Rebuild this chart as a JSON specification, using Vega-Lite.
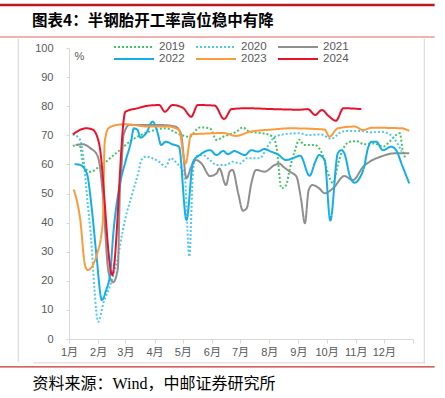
{
  "$schema": "https://vega.github.io/schema/vega-lite/v6.json",
  "width": 344,
  "height": 291,
  "autosize": {"type": "none"},
  "padding": {"left": 69, "top": 48, "right": 32, "bottom": 59},
  "background": "white",
  "title": {
    "text": "图表4：半钢胎开工率高位稳中有降",
    "anchor": "start",
    "frame": "group",
    "dx": -37,
    "offset": -26,
    "font": "Noto Sans CJK SC",
    "fontSize": 15.5,
    "fontWeight": "bold",
    "color": "#000000"
  },
  "resolve": {
    "scale": {"x": "independent", "y": "independent"},
    "axis": {"x": "independent", "y": "independent"}
  },
  "config": {
    "view": {"stroke": null},
    "font": "Liberation Sans, Noto Sans CJK SC",
    "legend": {
      "orient": "none",
      "legendX": 58.5,
      "legendY": -7.5,
      "direction": "horizontal",
      "columns": 3,
      "symbolType": "M-3.65,0H3.65",
      "symbolSize": 120,
      "symbolStrokeWidth": 2,
      "labelFontSize": 11.5,
      "labelColor": "#595959",
      "labelFont": "Liberation Sans",
      "labelOffset": 18.5,
      "columnPadding": 6,
      "rowPadding": 0,
      "padding": 0
    }
  },
  "layer": [
    {
      "data": {
        "values": [
          {"s": "2019", "d": "2024-01-05", "v": 66.4}, {"s": "2019", "d": "2024-01-12", "v": 66.7}, {"s": "2019", "d": "2024-01-17", "v": 59.2}, {"s": "2019", "d": "2024-01-24", "v": 57.5}, {"s": "2019", "d": "2024-02-02", "v": 59.2}, {"s": "2019", "d": "2024-02-20", "v": 63.8}, {"s": "2019", "d": "2024-03-08", "v": 68.4}, {"s": "2019", "d": "2024-03-26", "v": 71.2}, {"s": "2019", "d": "2024-04-13", "v": 72.4}, {"s": "2019", "d": "2024-04-28", "v": 70.3}, {"s": "2019", "d": "2024-05-08", "v": 69.5}, {"s": "2019", "d": "2024-05-19", "v": 72.7}, {"s": "2019", "d": "2024-05-30", "v": 72.4}, {"s": "2019", "d": "2024-06-06", "v": 68.4}, {"s": "2019", "d": "2024-06-13", "v": 69.5}, {"s": "2019", "d": "2024-06-27", "v": 71.2}, {"s": "2019", "d": "2024-07-04", "v": 72.7}, {"s": "2019", "d": "2024-07-11", "v": 71.2}, {"s": "2019", "d": "2024-07-25", "v": 70.7}, {"s": "2019", "d": "2024-08-05", "v": 69.5}, {"s": "2019", "d": "2024-08-09", "v": 65.5}, {"s": "2019", "d": "2024-08-14", "v": 51.8}, {"s": "2019", "d": "2024-08-19", "v": 52.9}, {"s": "2019", "d": "2024-08-23", "v": 58.6}, {"s": "2019", "d": "2024-08-28", "v": 64.4}, {"s": "2019", "d": "2024-09-02", "v": 68.5}, {"s": "2019", "d": "2024-09-07", "v": 66.7}, {"s": "2019", "d": "2024-09-18", "v": 66.7}, {"s": "2019", "d": "2024-09-27", "v": 63.2}, {"s": "2019", "d": "2024-10-02", "v": 57.5}, {"s": "2019", "d": "2024-10-08", "v": 53.5}, {"s": "2019", "d": "2024-10-13", "v": 59.8}, {"s": "2019", "d": "2024-10-18", "v": 64.9}, {"s": "2019", "d": "2024-10-26", "v": 67.8}, {"s": "2019", "d": "2024-11-02", "v": 68.0}, {"s": "2019", "d": "2024-11-10", "v": 66.9}, {"s": "2019", "d": "2024-11-21", "v": 67.2}, {"s": "2019", "d": "2024-11-30", "v": 66.1}, {"s": "2019", "d": "2024-12-07", "v": 67.8}, {"s": "2019", "d": "2024-12-12", "v": 69.5}, {"s": "2019", "d": "2024-12-18", "v": 70.7}, {"s": "2019", "d": "2024-12-21", "v": 65.0}, {"s": "2019", "d": "2024-12-24", "v": 62.0},

          {"s": "2020", "d": "2024-01-05", "v": 70.3}, {"s": "2020", "d": "2024-01-12", "v": 68.9}, {"s": "2020", "d": "2024-01-16", "v": 63.2}, {"s": "2020", "d": "2024-01-20", "v": 49.5}, {"s": "2020", "d": "2024-01-25", "v": 32.3}, {"s": "2020", "d": "2024-01-28", "v": 17.4}, {"s": "2020", "d": "2024-02-01", "v": 5.9}, {"s": "2020", "d": "2024-02-07", "v": 12.8}, {"s": "2020", "d": "2024-02-14", "v": 18.6}, {"s": "2020", "d": "2024-02-21", "v": 26.6}, {"s": "2020", "d": "2024-02-27", "v": 36.9}, {"s": "2020", "d": "2024-03-01", "v": 41.5}, {"s": "2020", "d": "2024-03-08", "v": 49.5}, {"s": "2020", "d": "2024-03-15", "v": 57.5}, {"s": "2020", "d": "2024-03-18", "v": 61.5}, {"s": "2020", "d": "2024-03-23", "v": 62.7}, {"s": "2020", "d": "2024-03-30", "v": 62.1}, {"s": "2020", "d": "2024-04-06", "v": 60.9}, {"s": "2020", "d": "2024-04-13", "v": 59.2}, {"s": "2020", "d": "2024-04-18", "v": 62.1}, {"s": "2020", "d": "2024-04-25", "v": 60.3}, {"s": "2020", "d": "2024-05-03", "v": 56.4}, {"s": "2020", "d": "2024-05-08", "v": 28.3}, {"s": "2020", "d": "2024-05-12", "v": 58.1}, {"s": "2020", "d": "2024-05-15", "v": 62.7}, {"s": "2020", "d": "2024-05-22", "v": 63.2}, {"s": "2020", "d": "2024-05-30", "v": 61.5}, {"s": "2020", "d": "2024-06-06", "v": 59.8}, {"s": "2020", "d": "2024-06-16", "v": 59.8}, {"s": "2020", "d": "2024-06-23", "v": 60.9}, {"s": "2020", "d": "2024-07-01", "v": 60.3}, {"s": "2020", "d": "2024-07-08", "v": 62.1}, {"s": "2020", "d": "2024-07-22", "v": 62.1}, {"s": "2020", "d": "2024-07-29", "v": 65.5}, {"s": "2020", "d": "2024-08-05", "v": 68.9}, {"s": "2020", "d": "2024-08-12", "v": 70.1}, {"s": "2020", "d": "2024-09-02", "v": 70.7}, {"s": "2020", "d": "2024-09-11", "v": 70.1}, {"s": "2020", "d": "2024-09-25", "v": 70.3}, {"s": "2020", "d": "2024-10-06", "v": 68.8}, {"s": "2020", "d": "2024-10-17", "v": 71.2}, {"s": "2020", "d": "2024-10-24", "v": 71.5}, {"s": "2020", "d": "2024-11-07", "v": 71.5}, {"s": "2020", "d": "2024-11-18", "v": 71.0}, {"s": "2020", "d": "2024-11-28", "v": 71.2}, {"s": "2020", "d": "2024-12-05", "v": 70.7}, {"s": "2020", "d": "2024-12-12", "v": 68.9}, {"s": "2020", "d": "2024-12-20", "v": 64.4},

          {"s": "2021", "d": "2024-01-08", "v": 66.7}, {"s": "2021", "d": "2024-01-16", "v": 66.9}, {"s": "2021", "d": "2024-01-24", "v": 65.5}, {"s": "2021", "d": "2024-01-31", "v": 63.2}, {"s": "2021", "d": "2024-02-03", "v": 59.0}, {"s": "2021", "d": "2024-02-06", "v": 49.5}, {"s": "2021", "d": "2024-02-12", "v": 23.1}, {"s": "2021", "d": "2024-02-17", "v": 19.5}, {"s": "2021", "d": "2024-02-22", "v": 24.3}, {"s": "2021", "d": "2024-02-24", "v": 49.5}, {"s": "2021", "d": "2024-02-26", "v": 60.0}, {"s": "2021", "d": "2024-02-28", "v": 70.1}, {"s": "2021", "d": "2024-03-05", "v": 73.5}, {"s": "2021", "d": "2024-03-26", "v": 73.5}, {"s": "2021", "d": "2024-04-10", "v": 73.5}, {"s": "2021", "d": "2024-04-23", "v": 73.0}, {"s": "2021", "d": "2024-04-29", "v": 70.7}, {"s": "2021", "d": "2024-05-05", "v": 55.2}, {"s": "2021", "d": "2024-05-10", "v": 59.2}, {"s": "2021", "d": "2024-05-15", "v": 61.5}, {"s": "2021", "d": "2024-05-21", "v": 60.3}, {"s": "2021", "d": "2024-05-30", "v": 56.0}, {"s": "2021", "d": "2024-06-06", "v": 56.9}, {"s": "2021", "d": "2024-06-09", "v": 58.6}, {"s": "2021", "d": "2024-06-16", "v": 52.9}, {"s": "2021", "d": "2024-06-20", "v": 57.5}, {"s": "2021", "d": "2024-06-23", "v": 58.1}, {"s": "2021", "d": "2024-06-29", "v": 50.1}, {"s": "2021", "d": "2024-07-04", "v": 44.1}, {"s": "2021", "d": "2024-07-08", "v": 44.9}, {"s": "2021", "d": "2024-07-13", "v": 53.5}, {"s": "2021", "d": "2024-07-18", "v": 58.1}, {"s": "2021", "d": "2024-07-27", "v": 57.5}, {"s": "2021", "d": "2024-08-07", "v": 59.8}, {"s": "2021", "d": "2024-08-12", "v": 60.3}, {"s": "2021", "d": "2024-08-16", "v": 59.2}, {"s": "2021", "d": "2024-08-23", "v": 57.5}, {"s": "2021", "d": "2024-08-30", "v": 55.8}, {"s": "2021", "d": "2024-09-04", "v": 47.8}, {"s": "2021", "d": "2024-09-08", "v": 39.8}, {"s": "2021", "d": "2024-09-12", "v": 51.2}, {"s": "2021", "d": "2024-09-16", "v": 52.9}, {"s": "2021", "d": "2024-09-23", "v": 51.8}, {"s": "2021", "d": "2024-09-29", "v": 50.1}, {"s": "2021", "d": "2024-10-08", "v": 51.8}, {"s": "2021", "d": "2024-10-20", "v": 56.0}, {"s": "2021", "d": "2024-10-29", "v": 54.6}, {"s": "2021", "d": "2024-11-09", "v": 59.2}, {"s": "2021", "d": "2024-11-19", "v": 61.5}, {"s": "2021", "d": "2024-11-28", "v": 62.7}, {"s": "2021", "d": "2024-12-12", "v": 63.8}, {"s": "2021", "d": "2024-12-28", "v": 63.8},

          {"s": "2022", "d": "2024-01-07", "v": 60.1}, {"s": "2022", "d": "2024-01-13", "v": 59.8}, {"s": "2022", "d": "2024-01-20", "v": 56.9}, {"s": "2022", "d": "2024-01-25", "v": 45.5}, {"s": "2022", "d": "2024-01-30", "v": 29.4}, {"s": "2022", "d": "2024-02-05", "v": 13.4}, {"s": "2022", "d": "2024-02-09", "v": 16.3}, {"s": "2022", "d": "2024-02-14", "v": 23.1}, {"s": "2022", "d": "2024-02-17", "v": 35.7}, {"s": "2022", "d": "2024-02-24", "v": 52.9}, {"s": "2022", "d": "2024-03-01", "v": 60.9}, {"s": "2022", "d": "2024-03-07", "v": 67.8}, {"s": "2022", "d": "2024-03-10", "v": 72.4}, {"s": "2022", "d": "2024-03-14", "v": 71.8}, {"s": "2022", "d": "2024-03-17", "v": 69.2}, {"s": "2022", "d": "2024-03-23", "v": 70.7}, {"s": "2022", "d": "2024-03-30", "v": 74.7}, {"s": "2022", "d": "2024-04-04", "v": 71.2}, {"s": "2022", "d": "2024-04-08", "v": 66.7}, {"s": "2022", "d": "2024-04-13", "v": 67.8}, {"s": "2022", "d": "2024-04-20", "v": 66.9}, {"s": "2022", "d": "2024-04-27", "v": 66.1}, {"s": "2022", "d": "2024-05-05", "v": 40.9}, {"s": "2022", "d": "2024-05-12", "v": 60.9}, {"s": "2022", "d": "2024-05-19", "v": 63.2}, {"s": "2022", "d": "2024-05-30", "v": 64.9}, {"s": "2022", "d": "2024-06-06", "v": 63.2}, {"s": "2022", "d": "2024-06-13", "v": 64.6}, {"s": "2022", "d": "2024-06-18", "v": 63.5}, {"s": "2022", "d": "2024-06-25", "v": 64.6}, {"s": "2022", "d": "2024-07-01", "v": 63.8}, {"s": "2022", "d": "2024-07-06", "v": 63.2}, {"s": "2022", "d": "2024-07-13", "v": 64.9}, {"s": "2022", "d": "2024-07-20", "v": 64.4}, {"s": "2022", "d": "2024-07-27", "v": 65.3}, {"s": "2022", "d": "2024-08-03", "v": 64.4}, {"s": "2022", "d": "2024-08-10", "v": 63.5}, {"s": "2022", "d": "2024-08-19", "v": 61.5}, {"s": "2022", "d": "2024-08-26", "v": 62.1}, {"s": "2022", "d": "2024-09-03", "v": 63.0}, {"s": "2022", "d": "2024-09-13", "v": 56.1}, {"s": "2022", "d": "2024-09-19", "v": 60.9}, {"s": "2022", "d": "2024-09-23", "v": 63.2}, {"s": "2022", "d": "2024-09-29", "v": 61.5}, {"s": "2022", "d": "2024-10-05", "v": 40.7}, {"s": "2022", "d": "2024-10-13", "v": 63.8}, {"s": "2022", "d": "2024-10-17", "v": 64.9}, {"s": "2022", "d": "2024-10-20", "v": 63.8}, {"s": "2022", "d": "2024-10-26", "v": 55.8}, {"s": "2022", "d": "2024-10-31", "v": 53.7}, {"s": "2022", "d": "2024-11-05", "v": 55.2}, {"s": "2022", "d": "2024-11-10", "v": 59.2}, {"s": "2022", "d": "2024-11-14", "v": 65.5}, {"s": "2022", "d": "2024-11-18", "v": 67.8}, {"s": "2022", "d": "2024-11-23", "v": 67.8}, {"s": "2022", "d": "2024-11-30", "v": 64.9}, {"s": "2022", "d": "2024-12-09", "v": 66.1}, {"s": "2022", "d": "2024-12-14", "v": 64.9}, {"s": "2022", "d": "2024-12-21", "v": 59.2}, {"s": "2022", "d": "2024-12-28", "v": 53.5},

          {"s": "2023", "d": "2024-01-06", "v": 51.4}, {"s": "2023", "d": "2024-01-13", "v": 40.9}, {"s": "2023", "d": "2024-01-18", "v": 25.4}, {"s": "2023", "d": "2024-01-21", "v": 23.7}, {"s": "2023", "d": "2024-01-31", "v": 29.4}, {"s": "2023", "d": "2024-02-06", "v": 40.3}, {"s": "2023", "d": "2024-02-08", "v": 67.8}, {"s": "2023", "d": "2024-02-12", "v": 72.4}, {"s": "2023", "d": "2024-02-20", "v": 73.5}, {"s": "2023", "d": "2024-03-01", "v": 73.8}, {"s": "2023", "d": "2024-03-26", "v": 73.0}, {"s": "2023", "d": "2024-04-16", "v": 73.0}, {"s": "2023", "d": "2024-04-27", "v": 71.8}, {"s": "2023", "d": "2024-05-04", "v": 60.3}, {"s": "2023", "d": "2024-05-10", "v": 70.3}, {"s": "2023", "d": "2024-05-26", "v": 70.6}, {"s": "2023", "d": "2024-06-13", "v": 70.8}, {"s": "2023", "d": "2024-06-27", "v": 69.8}, {"s": "2023", "d": "2024-07-11", "v": 71.2}, {"s": "2023", "d": "2024-08-05", "v": 72.0}, {"s": "2023", "d": "2024-08-23", "v": 72.4}, {"s": "2023", "d": "2024-09-29", "v": 72.0}, {"s": "2023", "d": "2024-10-04", "v": 69.5}, {"s": "2023", "d": "2024-10-13", "v": 72.4}, {"s": "2023", "d": "2024-10-31", "v": 73.0}, {"s": "2023", "d": "2024-11-09", "v": 71.8}, {"s": "2023", "d": "2024-11-18", "v": 72.6}, {"s": "2023", "d": "2024-12-20", "v": 72.4}, {"s": "2023", "d": "2024-12-28", "v": 71.5},

          {"s": "2024", "d": "2024-01-05", "v": 70.3}, {"s": "2024", "d": "2024-01-19", "v": 72.4}, {"s": "2024", "d": "2024-01-26", "v": 72.0}, {"s": "2024", "d": "2024-02-02", "v": 67.2}, {"s": "2024", "d": "2024-02-16", "v": 22.0}, {"s": "2024", "d": "2024-03-01", "v": 78.1}, {"s": "2024", "d": "2024-03-14", "v": 79.3}, {"s": "2024", "d": "2024-03-26", "v": 80.2}, {"s": "2024", "d": "2024-04-06", "v": 80.4}, {"s": "2024", "d": "2024-04-12", "v": 78.1}, {"s": "2024", "d": "2024-04-20", "v": 80.4}, {"s": "2024", "d": "2024-05-01", "v": 79.5}, {"s": "2024", "d": "2024-05-10", "v": 76.4}, {"s": "2024", "d": "2024-05-17", "v": 80.4}, {"s": "2024", "d": "2024-06-04", "v": 80.2}, {"s": "2024", "d": "2024-06-14", "v": 75.6}, {"s": "2024", "d": "2024-06-22", "v": 79.0}, {"s": "2024", "d": "2024-07-08", "v": 79.3}, {"s": "2024", "d": "2024-08-05", "v": 79.0}, {"s": "2024", "d": "2024-09-02", "v": 78.8}, {"s": "2024", "d": "2024-09-11", "v": 79.0}, {"s": "2024", "d": "2024-09-19", "v": 77.0}, {"s": "2024", "d": "2024-09-26", "v": 78.7}, {"s": "2024", "d": "2024-10-03", "v": 76.7}, {"s": "2024", "d": "2024-10-11", "v": 75.0}, {"s": "2024", "d": "2024-10-19", "v": 79.3}, {"s": "2024", "d": "2024-11-07", "v": 79.0}
        ]
      },
      "mark": {"type": "line", "interpolate": "monotone", "strokeWidth": 2},
      "encoding": {
        "x": {
          "field": "d",
          "type": "temporal",
          "scale": {
            "type": "utc",
            "domain": [
              {"year": 2024, "month": 1, "date": 1, "utc": true},
              {"year": 2025, "month": 1, "date": 1, "utc": true}
            ]
          },
          "axis": {
            "values": [
              {"year": 2024, "month": 1, "date": 1, "utc": true},
              {"year": 2024, "month": 2, "date": 1, "utc": true},
              {"year": 2024, "month": 3, "date": 1, "utc": true},
              {"year": 2024, "month": 4, "date": 1, "utc": true},
              {"year": 2024, "month": 5, "date": 1, "utc": true},
              {"year": 2024, "month": 6, "date": 1, "utc": true},
              {"year": 2024, "month": 7, "date": 1, "utc": true},
              {"year": 2024, "month": 8, "date": 1, "utc": true},
              {"year": 2024, "month": 9, "date": 1, "utc": true},
              {"year": 2024, "month": 10, "date": 1, "utc": true},
              {"year": 2024, "month": 11, "date": 1, "utc": true},
              {"year": 2024, "month": 12, "date": 1, "utc": true},
              {"year": 2025, "month": 1, "date": 1, "utc": true}
            ],
            "labelExpr": "utcyear(datum.value) > 2024 ? '' : (utcmonth(datum.value) + 1) + '月'",
            "labelFlush": false,
            "labelOverlap": false,
            "labelFontSize": 11,
            "labelColor": "#595959",
            "labelPadding": 3,
            "grid": false,
            "domainColor": "#d9d9d9",
            "tickColor": "#d9d9d9",
            "tickSize": 4,
            "title": "资料来源：Wind，中邮证券研究所",
            "titleFont": "Liberation Serif, Noto Sans CJK SC",
            "titleFontSize": 16,
            "titleFontWeight": "normal",
            "titleColor": "#000000",
            "titleAnchor": "start",
            "titleAlign": "left",
            "titleBaseline": "middle",
            "titleX": -37,
            "titleY": 44
          }
        },
        "y": {
          "field": "v",
          "type": "quantitative",
          "scale": {"domain": [0, 100]},
          "axis": {
            "values": [0, 10, 20, 30, 40, 50, 60, 70, 80, 90, 100],
            "labelOverlap": false,
            "labelFontSize": 11,
            "labelColor": "#595959",
            "labelPadding": 13,
            "grid": false,
            "domainColor": "#d9d9d9",
            "tickColor": "#d9d9d9",
            "tickSize": 3,
            "title": "%",
            "titleAngle": 0,
            "titleAlign": "left",
            "titleBaseline": "middle",
            "titleX": 5,
            "titleY": 8,
            "titleFontSize": 11,
            "titleFontWeight": "normal",
            "titleColor": "#595959"
          }
        },
        "color": {
          "field": "s",
          "type": "nominal",
          "scale": {
            "domain": ["2019", "2020", "2021", "2022", "2023", "2024"],
            "range": ["#41c763", "#4fc9f0", "#8f8f8f", "#16aee8", "#ff9a3c", "#e8132a"]
          },
          "legend": {"title": null, "rowPadding": 0}
        },
        "strokeDash": {
          "field": "s",
          "type": "nominal",
          "scale": {
            "domain": ["2019", "2020", "2021", "2022", "2023", "2024"],
            "range": [[2, 2], [2, 2], [1, 0], [1, 0], [1, 0], [1, 0]]
          },
          "legend": {"title": null, "rowPadding": 0}
        }
      }
    },
    {
      "data": {"values": [{}]},
      "mark": {"type": "rule", "color": "#b81822", "strokeWidth": 2.5},
      "encoding": {
        "x": {"datum": {"year": 2023, "month": 10, "date": 19, "utc": true}, "type": "temporal", "axis": null,
              "scale": {"type": "utc", "domain": [{"year": 2024, "month": 1, "date": 1, "utc": true}, {"year": 2025, "month": 1, "date": 1, "utc": true}]}},
        "x2": {"datum": {"year": 2025, "month": 1, "date": 24, "utc": true}},
        "y": {"datum": 114.8, "type": "quantitative", "axis": null, "scale": {"domain": [0, 100]}}
      }
    },
    {
      "data": {"values": [{}]},
      "mark": {"type": "rule", "color": "#e79a9a", "strokeWidth": 1.5},
      "encoding": {
        "x": {"datum": {"year": 2023, "month": 10, "date": 19, "utc": true}, "type": "temporal", "axis": null,
              "scale": {"type": "utc", "domain": [{"year": 2024, "month": 1, "date": 1, "utc": true}, {"year": 2025, "month": 1, "date": 1, "utc": true}]}},
        "x2": {"datum": {"year": 2025, "month": 1, "date": 24, "utc": true}},
        "y": {"datum": 103.8, "type": "quantitative", "axis": null, "scale": {"domain": [0, 100]}}
      }
    },
    {
      "data": {"values": [{}]},
      "mark": {"type": "rule", "color": "#c9302c", "strokeWidth": 1.2},
      "encoding": {
        "x": {"datum": {"year": 2023, "month": 10, "date": 19, "utc": true}, "type": "temporal", "axis": null,
              "scale": {"type": "utc", "domain": [{"year": 2024, "month": 1, "date": 1, "utc": true}, {"year": 2025, "month": 1, "date": 1, "utc": true}]}},
        "x2": {"datum": {"year": 2025, "month": 1, "date": 24, "utc": true}},
        "y": {"datum": -9.6, "type": "quantitative", "axis": null, "scale": {"domain": [0, 100]}}
      }
    },
    {
      "data": {"values": [{}]},
      "mark": {"type": "rule", "color": "#d4d4d4", "strokeWidth": 1},
      "encoding": {
        "x": {"datum": {"year": 2023, "month": 11, "date": 8, "utc": true}, "type": "temporal", "axis": null,
              "scale": {"type": "utc", "domain": [{"year": 2024, "month": 1, "date": 1, "utc": true}, {"year": 2025, "month": 1, "date": 1, "utc": true}]}},
        "y": {"datum": 103.2, "type": "quantitative", "axis": null, "scale": {"domain": [0, 100]}},
        "y2": {"datum": -7.9}
      }
    },
    {
      "data": {"values": [{}]},
      "mark": {"type": "rule", "color": "#d4d4d4", "strokeWidth": 1},
      "encoding": {
        "x": {"datum": {"year": 2025, "month": 1, "date": 13, "utc": true}, "type": "temporal", "axis": null,
              "scale": {"type": "utc", "domain": [{"year": 2024, "month": 1, "date": 1, "utc": true}, {"year": 2025, "month": 1, "date": 1, "utc": true}]}},
        "y": {"datum": 103.2, "type": "quantitative", "axis": null, "scale": {"domain": [0, 100]}},
        "y2": {"datum": -8.2}
      }
    },
    {
      "data": {"values": [{}]},
      "mark": {"type": "rule", "color": "#d4d4d4", "strokeWidth": 1},
      "encoding": {
        "x": {"datum": {"year": 2023, "month": 11, "date": 24, "utc": true}, "type": "temporal", "axis": null,
              "scale": {"type": "utc", "domain": [{"year": 2024, "month": 1, "date": 1, "utc": true}, {"year": 2025, "month": 1, "date": 1, "utc": true}]}},
        "x2": {"datum": {"year": 2025, "month": 1, "date": 14, "utc": true}},
        "y": {"datum": -8.2, "type": "quantitative", "axis": null, "scale": {"domain": [0, 100]}}
      }
    }
  ]
}
